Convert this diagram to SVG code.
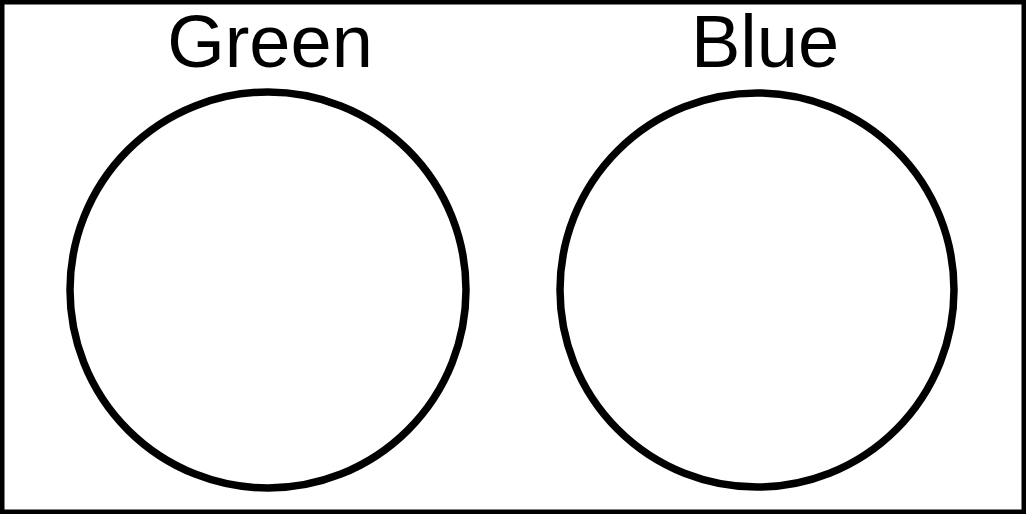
<svg xmlns="http://www.w3.org/2000/svg" width="1027" height="515" viewBox="0 0 1027 515">
<style>
.frame{fill:#fff;stroke:#000;stroke-width:4.5}
.ring{fill:#fff;stroke:#000;stroke-width:7.5}
.lbl{font-family:"Liberation Sans",Arial,sans-serif;font-size:74px;fill:#000;text-anchor:middle}
</style>
<rect class="frame" x="2.25" y="2.25" width="1021.5" height="509.5"/>
<g id="green">
<circle class="ring" cx="268" cy="290" r="198"/>
<text class="lbl" x="270" y="67">Green</text>
</g>
<g id="blue">
<circle class="ring" cx="757" cy="290" r="197"/>
<text class="lbl" x="765" y="67">Blue</text>
</g>
<g id="connectors"/>
</svg>
